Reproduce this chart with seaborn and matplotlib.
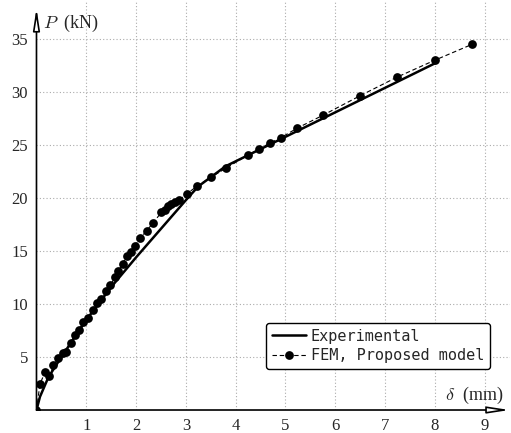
import matplotlib
matplotlib.use("Agg")
import matplotlib.pyplot as plt
import seaborn as sns
import pandas as pd

# experimental curve
exp_x = [0.0, 0.07, 0.24, 0.5, 1.0, 1.5, 2.0, 2.5, 3.0, 3.25, 3.8, 8.0]
exp_p = [0.0, 1.25, 3.1, 5.0, 8.5, 11.6, 14.4, 17.1, 19.8, 21.1, 23.0, 32.7]

# FEM, proposed model
fem_x = [0.0, 0.07, 0.17, 0.26, 0.34, 0.44, 0.53, 0.6, 0.69, 0.77, 0.86, 0.94,
         1.03, 1.13, 1.21, 1.3, 1.4, 1.48, 1.58, 1.64, 1.73, 1.81, 1.9, 1.98,
         2.08, 2.21, 2.34, 2.51, 2.58, 2.65, 2.71, 2.78, 2.86, 3.02, 3.22,
         3.5, 3.8, 4.25, 4.47, 4.69, 4.91, 5.24, 5.75, 6.5, 7.24, 8.0, 8.75]
fem_p = [0.0, 2.45, 3.56, 3.2, 4.2, 4.9, 5.35, 5.5, 6.35, 7.1, 7.55, 8.3,
         8.65, 9.4, 10.07, 10.5, 11.2, 11.8, 12.5, 13.1, 13.8, 14.5, 14.9, 15.5,
         16.2, 16.9, 17.65, 18.65, 18.9, 19.2, 19.4, 19.6, 19.8, 20.4, 21.1,
         21.95, 22.8, 24.06, 24.6, 25.2, 25.7, 26.6, 27.8, 29.65, 31.4, 33.0, 34.5]

x_ticks = [1, 2, 3, 4, 5, 6, 7, 8, 9]
y_ticks = [5, 10, 15, 20, 25, 30, 35]

sns.set_style("white")
plt.rcParams["font.family"] = ["Liberation Serif", "DejaVu Serif"]
plt.rcParams["mathtext.fontset"] = "cm"

exp_df = pd.DataFrame({"d": exp_x, "P": exp_p})
fem_df = pd.DataFrame({"d": fem_x, "P": fem_p})

fig = plt.figure(figsize=(5.11, 4.33), dpi=100)
ax = fig.add_axes([0.0714, 0.0531, 0.9258, 0.945])

sns.lineplot(data=exp_df, x="d", y="P", sort=False, estimator=None, ax=ax,
             color="black", lw=1.8, label="Experimental")
sns.lineplot(data=fem_df, x="d", y="P", sort=False, estimator=None, ax=ax,
             color="black", lw=0.8, linestyle=(0, (4, 2.5)), marker="o",
             markersize=6.3, markeredgewidth=0, label="FEM, Proposed model")

ax.set_xlim(0, 9.5)
ax.set_ylim(0, 38.6)
ax.set_xticks(x_ticks)
ax.set_yticks(y_ticks)
ax.tick_params(length=0, labelsize=12, pad=6)
ax.grid(True, color="#ababab", linestyle=(0, (1, 2)), lw=0.8)
for s in ax.spines.values():
    s.set_visible(False)
ax.set_xlabel("")
ax.set_ylabel("")

# axis arrows
arrow = dict(arrowstyle="-|>,head_length=1.3,head_width=0.2", fc="white",
             ec="black", lw=1.2, shrinkA=0, shrinkB=0)
ax.annotate("", xy=(9.5, 0), xytext=(0, 0), arrowprops=arrow, annotation_clip=False)
ax.annotate("", xy=(0, 37.9), xytext=(0, 0), arrowprops=arrow, annotation_clip=False)

ax.text(0.13, 36.5, r"$P$  (kN)", fontsize=13, va="center", ha="left")
ax.text(9.38, 1.4, r"$\delta$  (mm)", fontsize=13, va="center", ha="right")

leg = ax.legend(loc="lower right", bbox_to_anchor=(0.959, 0.147),
                bbox_transform=fig.transFigure, frameon=True, fancybox=True,
                edgecolor="black", framealpha=1, handlelength=2.2,
                borderpad=0.4, labelspacing=0.3, handletextpad=0.3,
                borderaxespad=0, prop={"family": "DejaVu Sans Mono", "size": 11})
leg.get_frame().set_linewidth(1.0)

fig.savefig("out.png", dpi=100)
